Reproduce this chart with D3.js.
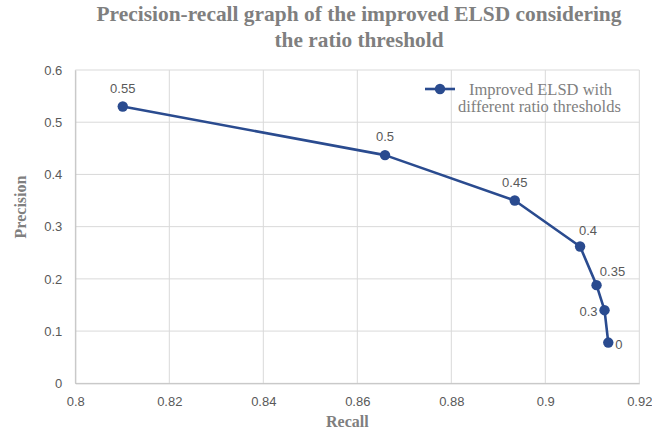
<!DOCTYPE html>
<html>
<head>
<meta charset="utf-8">
<script src="https://cdn.jsdelivr.net/npm/d3@7"></script>
<style>
  html, body { margin: 0; padding: 0; background: #fff; }
  svg { display: block; }
</style>
</head>
<body>
<svg id="chart" width="652" height="435"></svg>
<script>
// Precision-recall points of the improved ELSD, one per ratio threshold
const thresholds = ["0.55", "0.5", "0.45", "0.4", "0.35", "0.3", "0"];
const recall     = [0.8101, 0.8659, 0.8935, 0.9074, 0.9109, 0.9126, 0.9134];
const precision  = [0.530, 0.437, 0.350, 0.262, 0.188, 0.140, 0.078];

const xTicks = [0.8, 0.82, 0.84, 0.86, 0.88, 0.9, 0.92];
const yTicks = [0, 0.1, 0.2, 0.3, 0.4, 0.5, 0.6];

const titleLines = ["Precision-recall graph of the improved ELSD considering", "the ratio threshold"];
const titleWidths = [525, 169];
const legendLines = ["Improved ELSD with", "different ratio thresholds"];

// label placement per point: [dx, dy, anchor]
const labelPos = [
  [0, -14, "middle"], [0, -14, "middle"], [0, -14, "middle"],
  [8, -11, "middle"], [16, -9, "middle"], [-7, 6, "end"], [7, 6, "start"]
];

const svg = d3.select("#chart");
const margin = { left: 75.3, right: 652 - 639.3, top: 70, bottom: 435 - 383.3 };
const W = 652, H = 435;

const x = d3.scaleLinear().domain([0.8, 0.92]).range([margin.left, W - margin.right]);
const y = d3.scaleLinear().domain([0, 0.6]).range([H - margin.bottom, margin.top]);

const gridColor = "#d9d9d9";
const textGray = "#595959";
const titleGray = "#7f7f7f";
const seriesColor = "#2a4b8f";

// gridlines
svg.append("g").selectAll("line").data(xTicks).join("line")
  .attr("x1", d => x(d)).attr("x2", d => x(d))
  .attr("y1", y(0)).attr("y2", y(0.6))
  .attr("stroke", gridColor).attr("stroke-width", 1);
svg.append("g").selectAll("line").data(yTicks).join("line")
  .attr("x1", x(0.8)).attr("x2", x(0.92))
  .attr("y1", d => y(d)).attr("y2", d => y(d))
  .attr("stroke", gridColor).attr("stroke-width", 1);

// axes
const xAxis = d3.axisBottom(x).tickValues(xTicks).tickSize(0).tickPadding(13)
  .tickFormat(d => String(+d.toFixed(2)));
const gx = svg.append("g").attr("transform", `translate(0,${y(0)})`).call(xAxis);
gx.select(".domain").attr("stroke", "#bfbfbf");
gx.selectAll("text").attr("fill", textGray).style("font-family", "Liberation Sans, Arial, sans-serif").style("font-size", "13px");

const yAxis = d3.axisLeft(y).tickValues(yTicks).tickSize(0).tickPadding(13)
  .tickFormat(d => String(+d.toFixed(1)));
const gy = svg.append("g").attr("transform", `translate(${x(0.8)},0)`).call(yAxis);
gy.select(".domain").attr("stroke", "#bfbfbf");
gy.selectAll("text").attr("fill", textGray).style("font-family", "Liberation Sans, Arial, sans-serif").style("font-size", "13px");

// series line and markers
const pts = recall.map((r, i) => ({ r, p: precision[i], t: thresholds[i], pos: labelPos[i] }));
svg.append("path").datum(pts)
  .attr("fill", "none").attr("stroke", seriesColor).attr("stroke-width", 2.6)
  .attr("stroke-linejoin", "round")
  .attr("d", d3.line().x(d => x(d.r)).y(d => y(d.p)));
svg.append("g").selectAll("circle").data(pts).join("circle")
  .attr("cx", d => x(d.r)).attr("cy", d => y(d.p)).attr("r", 5.2)
  .attr("fill", seriesColor);

// data labels
svg.append("g").selectAll("text").data(pts).join("text")
  .attr("x", d => x(d.r) + d.pos[0]).attr("y", d => y(d.p) + d.pos[1])
  .attr("text-anchor", d => d.pos[2])
  .attr("fill", textGray)
  .style("font-family", "Liberation Sans, Arial, sans-serif").style("font-size", "13px")
  .text(d => d.t);

// title (tall, slightly condensed lettering)
const serif = "Liberation Serif, 'Times New Roman', serif";
svg.append("g").selectAll("text").data(titleLines).join("text")
  .attr("x", (d, i) => 359 - titleWidths[i] / 2)
  .attr("y", (d, i) => 20.5 + i * 26.5)
  .attr("textLength", (d, i) => titleWidths[i])
  .attr("lengthAdjust", "spacingAndGlyphs")
  .attr("fill", titleGray).style("font-family", serif).style("font-size", "22px").style("font-weight", "bold")
  .text(d => d);

// axis titles
svg.append("text").attr("x", (x(0.8) + x(0.92)) / 2 - 10).attr("y", 427).attr("text-anchor", "middle")
  .attr("fill", titleGray).style("font-family", serif).style("font-size", "16px").style("font-weight", "bold")
  .text("Recall");
svg.append("text").attr("transform", "translate(26,207) rotate(-90)").attr("text-anchor", "middle")
  .attr("fill", titleGray).style("font-family", serif).style("font-size", "16px").style("font-weight", "bold")
  .text("Precision");

// legend
const lg = svg.append("g").attr("transform", "translate(425,89)");
lg.append("line").attr("x1", 0).attr("x2", 30).attr("y1", 0).attr("y2", 0)
  .attr("stroke", seriesColor).attr("stroke-width", 2.6);
lg.append("circle").attr("cx", 15).attr("cy", 0).attr("r", 5.2).attr("fill", seriesColor);
lg.append("text").attr("fill", titleGray).style("font-family", serif).style("font-size", "16.5px")
  .selectAll("tspan").data(legendLines).join("tspan")
  .attr("x", (d, i) => i ? 33 : 44).attr("y", (d, i) => 5.5 + i * 17.5).text(d => d);
</script>
</body>
</html>
